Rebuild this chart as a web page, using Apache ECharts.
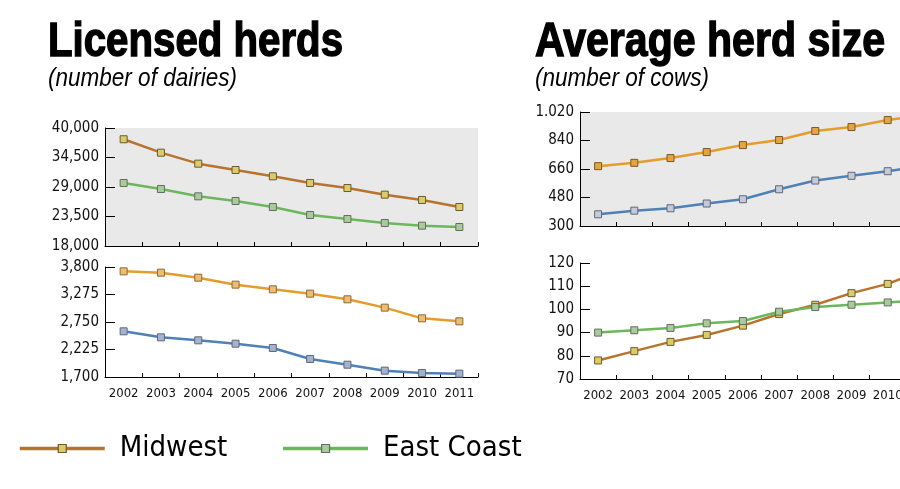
<!DOCTYPE html>
<html><head><meta charset="utf-8">
<script src="https://cdn.jsdelivr.net/npm/echarts@6/dist/echarts.min.js"></script>
<style>
html,body{margin:0;padding:0;overflow:hidden;background:#fff;width:900px;height:489px}
#c{width:960px;height:489px}
</style></head><body><div id="c"></div>
<script>
// ---- data ----
const years = ['2002','2003','2004','2005','2006','2007','2008','2009','2010','2011'];
const midwestHerds   = [37900,35400,33350,32170,30990,29750,28810,27570,26580,25270];
const eastCoastHerds = [29750,28630,27260,26390,25270,23780,23030,22290,21790,21540];
const orangeHerds    = [3717,3692,3596,3463,3374,3291,3183,3024,2820,2763];
const blueHerds      = [2572,2457,2400,2336,2254,2044,1935,1821,1776,1764];
const orangeSize     = [678,699,729,767,811,843,900,925,969,1000];
const blueSize       = [374,397,412,442,469,532,587,617,646,680];
const midwestSize    = [78,82,86,89,93,98,102,107,111,117];
const eastCoastSize  = [90,91,92,94,95,99,101,102,103,104];
const legendNames = ['Midwest','East Coast'];
const titles = ['Licensed herds','Average herd size'];
const subtitles = ['(number of dairies)','(number of cows)'];

const FONT = "'Liberation Sans Narrow','DejaVu Sans Condensed','Liberation Sans',sans-serif";
const FONTB = "'Liberation Sans','Arial',sans-serif";

function measure(text, font){
  const cv = document.createElement('canvas').getContext('2d');
  cv.font = font; return cv.measureText(text).width;
}
function stretchedText(text, x, y, size, weight, style, targetW, stroke){
  const font = style+' '+weight+' '+size+'px '+FONTB;
  const w = measure(text, font);
  return {type:'text', x:x, y:y, scaleX: targetW / w, silent:true,
    style:{text:text, fontSize:size, fontWeight:weight, fontStyle:style, fontFamily:FONTB,
      fill:'#000', stroke: stroke? '#000':null, lineWidth: stroke||0, verticalAlign:'top', align:'left'}};
}

const grids = [
  {left:105, top:128, width:373, height:118, show:true, backgroundColor:'#e9e9e9', borderWidth:0},
  {left:105, top:267, width:373, height:110},
  {left:580, top:112, width:362, height:114, show:true, backgroundColor:'#e9e9e9', borderWidth:0},
  {left:580, top:263, width:362, height:116}
];
const yCfg = [
  {min:18000, max:40000, interval:5500, sep:','},
  {min:1700, max:3800, interval:525, sep:','},
  {min:300, max:1020, interval:180, sep:'.'},
  {min:70, max:120, interval:10, sep:','}
];
function fmt(v, sep){
  return String(Math.round(v)).replace(/\B(?=(\d{3})+(?!\d))/g, sep);
}
const xAxes = grids.map((g,i)=>({
  type:'category', gridIndex:i, data:years, boundaryGap:true,
  axisLine:{show:true, lineStyle:{color:'#000', width:1}},
  axisTick:{show:true, inside:true, length:4, interval:0, lineStyle:{color:'#000'}},
  axisLabel:{show: i%2===1, interval:0, fontSize:13, color:'#111', margin:10, fontFamily:FONT},
  splitLine:{show:false}
}));
const yAxes = yCfg.map((c,i)=>({
  type:'value', gridIndex:i, min:c.min, max:c.max, interval:c.interval,
  axisLine:{show:true, lineStyle:{color:'#000', width:1}},
  axisTick:{show:true, inside:true, length:10, lineStyle:{color:'#000'}},
  axisLabel:{fontSize:15, color:'#111', margin:6, fontFamily:FONT, formatter:v=>fmt(v,c.sep)},
  splitLine:{show:false}
}));
function ls(name, data, gi, line, fill, border){
  return {type:'line', name:name, data:data, xAxisIndex:gi, yAxisIndex:gi,
    symbol:'rect', symbolSize:7, showSymbol:true, smooth:false,
    lineStyle:{color:line, width:2.5},
    itemStyle:{color:fill, borderColor:border, borderWidth:1},
    emphasis:{disabled:true}};
}
const series = [
  ls('Midwest', midwestHerds, 0, '#b8732f', '#dccb6c', '#6b5a30'),
  ls('East Coast', eastCoastHerds, 0, '#6cb65c', '#abc99c', '#607060'),
  ls('Region C', orangeHerds, 1, '#e49d2c', '#eebd74', '#8a6a3a'),
  ls('Region D', blueHerds, 1, '#4f81b6', '#a3b3ce', '#606878'),
  ls('Region C ', orangeSize, 2, '#e49d2c', '#e2a446', '#7a5a2a'),
  ls('Region D ', blueSize, 2, '#4f81b6', '#c4cad8', '#606878'),
  ls('Midwest', midwestSize, 3, '#b8732f', '#dccb6c', '#6b5a30'),
  ls('East Coast', eastCoastSize, 3, '#6cb65c', '#abc99c', '#607060')
];

const chart = echarts.init(document.getElementById('c'), null, {renderer:'canvas'});
chart.setOption({
  animation:false,
  backgroundColor:'#fff',
  grid:grids, xAxis:xAxes, yAxis:yAxes, series:series,
  legend:{data:legendNames, left:18, top:434, padding:0, itemWidth:85, itemHeight:10, itemGap:54,
    lineStyle:{width:3.5}, itemStyle:{borderWidth:1.2},
    textStyle:{fontSize:29, color:'#000', fontFamily:FONT, padding:[0,0,0,10]}},
  graphic:[
    stretchedText(titles[0], 48, 19, 48, 'bold', 'normal', 295, 1.4),
    stretchedText(titles[1], 535, 19, 48, 'bold', 'normal', 350, 1.4),
    stretchedText(subtitles[0], 48, 67, 25, 'normal', 'italic', 189, 0),
    stretchedText(subtitles[1], 535, 67, 25, 'normal', 'italic', 174, 0)
  ]
});
</script></body></html>
